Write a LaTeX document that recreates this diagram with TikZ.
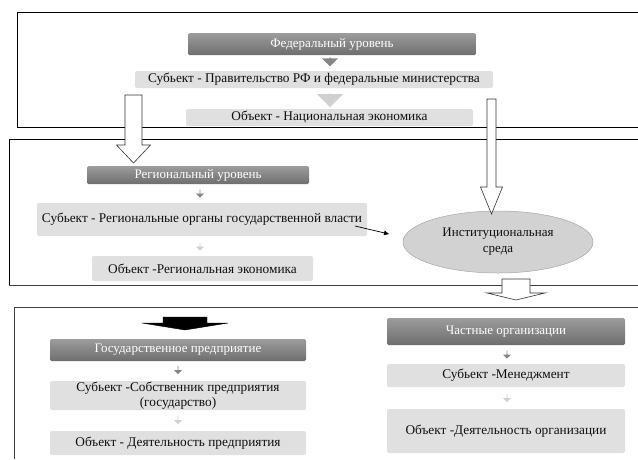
\documentclass[tikz,border=0pt]{standalone}
\usepackage{fontspec}
\setmainfont{Liberation Serif}
\usetikzlibrary{shapes.geometric,shapes.arrows,arrows.meta,calc}
\definecolor{darkA}{HTML}{9C9C9C}
\definecolor{darkB}{HTML}{6E6E6E}
\definecolor{lightbox}{HTML}{E0E0E0}
\definecolor{textc}{HTML}{0F0F0F}
\definecolor{ellfill}{HTML}{D2D2D2}
\definecolor{arrdark}{HTML}{858585}
\definecolor{arrlight}{HTML}{D0D0D0}
\newcommand{\blockarrowdn}[7]{% cx, ytop, yhead, ytip, shafthalf, headhalf, style
  \path[#7] (#1-#5,#2) -- (#1+#5,#2) -- (#1+#5,#3) -- (#1+#6,#3) -- (#1,#4)
    -- (#1-#6,#3) -- (#1-#5,#3) -- cycle;}
\begin{document}
\begin{tikzpicture}[x=1pt,y=-1pt,
  titlebox/.style={rectangle, rounded corners=1.5pt, top color=darkA, bottom color=darkB,
    text=white, font=\fontsize{13}{15}\selectfont, inner sep=0pt, draw=none},
  itembox/.style={rectangle, rounded corners=2pt, fill=lightbox, text=textc,
    font=\fontsize{13.3}{15}\selectfont, inner sep=0pt, align=center, draw=none},
  frameline/.style={line width=0.8pt, draw=black},
  frameline2/.style={line width=0.8pt, draw=black!75},
  hollow/.style={draw=black!80, fill=white, line width=0.6pt},
  solidarrow/.style={fill=black, draw=black},
  dnarrow/.style={single arrow, shape border rotate=270, fill=#1, draw=none,
    inner sep=0pt, outer sep=0pt},
  smallarr/.style={dnarrow=#1, minimum width=8pt, minimum height=8pt, single arrow head extend=1.5pt},
  thinarrow/.style={-{Triangle[length=5pt,width=4.5pt]}, line width=0.7pt, draw=black}
]
\useasboundingbox (0,0) rectangle (638,459);

% frames
\draw[frameline] (638,12) -- (17,12) -- (17,127) -- (638,127);
\draw[frameline] (638,139) -- (9,139) -- (9,285);
\draw[frameline2] (9,285) -- (638,285);
\draw[frameline2] (638,307) -- (14,307) -- (14,459);

% federal level
\node[titlebox, minimum width=288pt, minimum height=22pt] (fed) at (332,44) {Федеральный уровень};
\node[itembox, minimum width=358pt, minimum height=17pt] (fedsub) at (314,79.5) {Субьект - Правительство РФ и федеральные министерства};
\node[itembox, minimum width=287pt, minimum height=17pt] (fedobj) at (329.5,117.5) {Объект - Национальная экономика};
\node[dnarrow=arrdark, minimum width=16pt, minimum height=9pt, single arrow head extend=3pt] (fa1) at (330,61.5) {};
\node[dnarrow=arrlight, minimum width=26pt, minimum height=14pt, single arrow head extend=6pt] (fa2) at (330,100) {};

% regional level
\node[titlebox, minimum width=222pt, minimum height=18pt] (reg) at (198,175) {Региональный уровень};
\node[itembox, minimum width=330pt, minimum height=33pt] (regsub) at (202,219.5) {Субьект - Региональные органы государственной власти};
\node[itembox, minimum width=221pt, minimum height=25pt] (regobj) at (202.5,268.5) {Объект -Региональная экономика};
\node[smallarr=arrdark] (ra1) at (200,193.5) {};
\node[smallarr=arrlight] (ra2) at (200,246.5) {};

% institutional environment
\node[ellipse, fill=ellfill, draw=black!35, line width=0.5pt, minimum width=190pt, minimum height=62pt,
  inner sep=0pt, align=center, text=textc, font=\fontsize{13}{16}\selectfont] (inst) at (498,242)
  {Институциональная\\среда};

% state enterprise
\node[titlebox, minimum width=256pt, minimum height=22pt] (gos) at (178,350) {Государственное предприятие};
\node[itembox, minimum width=256pt, minimum height=29pt] (gossub) at (178,395.5) {Субьект -Собственник предприятия\\(государство)};
\node[itembox, minimum width=256pt, minimum height=24pt] (gosobj) at (178,443) {Объект - Деятельность предприятия};
\node[smallarr=arrdark] (ga1) at (178,370) {};
\node[smallarr=arrlight] (ga2) at (178,420) {};

% private organisations
\node[titlebox, minimum width=238pt, minimum height=27pt] (chast) at (506,331.5) {Частные организации};
\node[itembox, minimum width=238pt, minimum height=23pt] (chsub) at (506,375.5) {Субьект -Менеджмент};
\node[itembox, minimum width=238pt, minimum height=44pt] (chobj) at (506,431) {Объект -Деятельность организации};
\node[smallarr=arrdark] (pa1) at (507,354.5) {};
\node[smallarr=arrlight] (pa2) at (507,398) {};

% big hollow arrows
\blockarrowdn{133.5}{95}{145}{163}{8.5}{17}{hollow}
\blockarrowdn{491.5}{99}{187}{214}{4.5}{11}{hollow}
\blockarrowdn{516}{279}{293}{300}{14}{29}{hollow}
\blockarrowdn{185}{317}{323}{330}{22}{43}{solidarrow}

% thin arrow to institutional environment
\coordinate (thinS) at (355,226);
\coordinate (thinE) at (389,234);
\draw[thinarrow] (thinS) -- (thinE);
\end{tikzpicture}
\end{document}
